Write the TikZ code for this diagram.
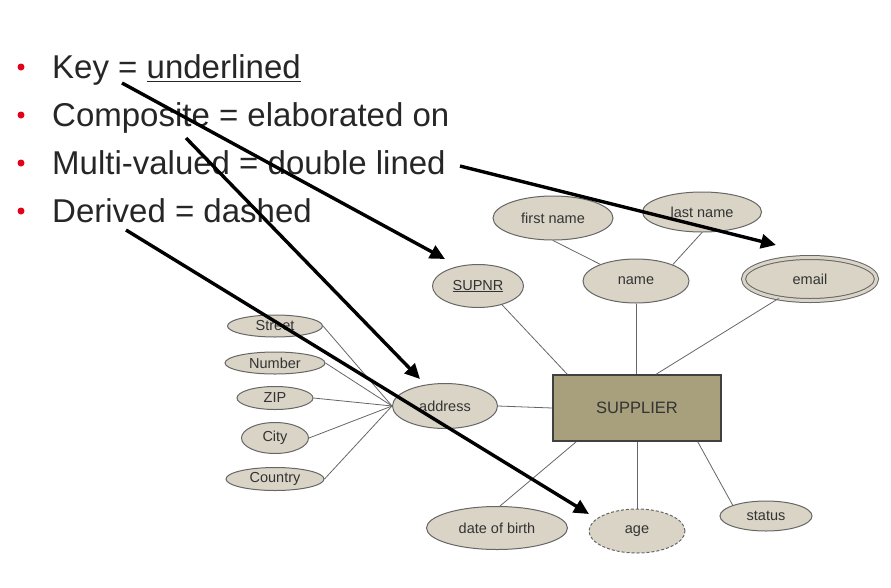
\documentclass[tikz,border=0pt]{standalone}
\usepackage{fontspec}
\setmainfont{Liberation Sans}
\usetikzlibrary{shapes.geometric,arrows.meta}
\definecolor{attrfill}{HTML}{D9D4C6}
\definecolor{attrline}{HTML}{666666}
\definecolor{attrtext}{HTML}{333333}
\definecolor{entfill}{HTML}{A89F7D}
\definecolor{entline}{HTML}{404040}
\definecolor{bulletred}{HTML}{E2001A}
\definecolor{slidetext}{HTML}{262626}
\newcommand\myuline[3]{\setbox0\hbox{#3}\rlap{\rule[-#1]{\wd0}{#2}}\box0}
\begin{document}
\begin{tikzpicture}[x=1pt,y=-1pt,
  attr/.style={ellipse, draw=attrline, fill=attrfill, line width=1pt, inner sep=0pt,
    font=\fontsize{14.5}{16}\selectfont, text=attrtext},
  entity/.style={rectangle, draw=entline, fill=entfill, line width=1.4pt, inner sep=0pt,
    minimum width=168pt, minimum height=66pt, font=\fontsize{16.5}{19}\selectfont, text=attrtext},
  link/.style={draw=attrline, line width=0.8pt},
  bullettext/.style={anchor=base west, inner sep=0pt, font=\fontsize{33}{40}\selectfont, text=slidetext},
  bulletdot/.style={circle, fill=bulletred, inner sep=0pt, minimum size=7pt},
  pointer/.style={draw=black, line width=3.4pt, -{Triangle[length=15pt,width=14pt]}}
]
\useasboundingbox (0,0) rectangle (891,587);

% bullets
\node[bulletdot] (d1) at (21,67) {};
\node[bulletdot] (d2) at (21,115) {};
\node[bulletdot] (d3) at (21,163) {};
\node[bulletdot] (d4) at (21,211) {};
\node[bullettext] (t1) at (52,78) {Key = \myuline{4pt}{1.3pt}{underlined}};
\node[bullettext] (t2) at (52,126) {Composite = elaborated on};
\node[bullettext] (t3) at (52,174) {Multi-valued = double lined};
\node[bullettext] (t4) at (52,222) {Derived = dashed};

% entity
\node[entity] (sup) at (637,408) {SUPPLIER};

% attributes
\node[attr, minimum width=120pt, minimum height=44pt] (fname) at (553,218) {first name};
\node[attr, minimum width=119pt, minimum height=40pt] (lname) at (702,212) {last name};
\node[attr, minimum width=106pt, minimum height=44pt] (name) at (636,281) {name};
\node[attr, minimum width=133pt, minimum height=43pt, double=attrfill, double distance=3pt] (email) at (810,279) {email};
\node[attr, minimum width=91pt, minimum height=43pt] (supnr) at (478,286) {\myuline{2pt}{0.9pt}{SUPNR}};
\node[attr, minimum width=105pt, minimum height=45pt] (addr) at (445,406) {address};
\node[attr, minimum width=95pt, minimum height=22pt] (street) at (275,326) {Street};
\node[attr, minimum width=100pt, minimum height=22pt] (number) at (275,363) {Number};
\node[attr, minimum width=76pt, minimum height=23pt] (zip) at (275,398) {ZIP};
\node[attr, minimum width=67pt, minimum height=31pt] (city) at (275,438) {City};
\node[attr, minimum width=98pt, minimum height=23pt] (country) at (275,479) {Country};
\node[attr, minimum width=141pt, minimum height=43pt] (dob) at (497,528) {date of birth};
\node[attr, minimum width=96pt, minimum height=44pt, dash pattern=on 3pt off 2pt] (age) at (637,531) {age};
\node[attr, minimum width=92pt, minimum height=30pt] (status) at (766,516) {status};

% links
\path[link] (fname.south) -- (name.155);
\path[link] (lname.south) -- (name.24);
\path[link] (name.south) -- (name.south |- sup.north);
\path[link] (supnr.-38) -- ([xshift=15pt]sup.north west);
\path[link] (email) -- ([xshift=19pt]sup.north);
\path[link] (addr.east) -- (sup.west);
\path[link] (street.east) -- (addr.west);
\path[link] (number.east) -- (addr.west);
\path[link] (zip.east) -- (addr.west);
\path[link] (city.east) -- (addr.west);
\path[link] (country.east) -- (addr.west);
\path[link] ([xshift=3pt]dob.north) -- ([xshift=24pt]sup.south west);
\path[link] (sup.south) -- (age.north);
\path[link] ([xshift=-24pt]sup.south east) -- (status.162);

% pointer arrows
\coordinate (k0) at (122,83);
\coordinate (k1) at (445,259);
\coordinate (c0) at (186,138);
\coordinate (c1) at (420,379);
\coordinate (m0) at (460,166);
\coordinate (m1) at (776,245);
\coordinate (r0) at (126,230);
\coordinate (r1) at (589,514);
\draw[pointer] (k0) -- (k1);
\draw[pointer] (c0) -- (c1);
\draw[pointer] (m0) -- (m1);
\draw[pointer] (r0) -- (r1);
\end{tikzpicture}
\end{document}
